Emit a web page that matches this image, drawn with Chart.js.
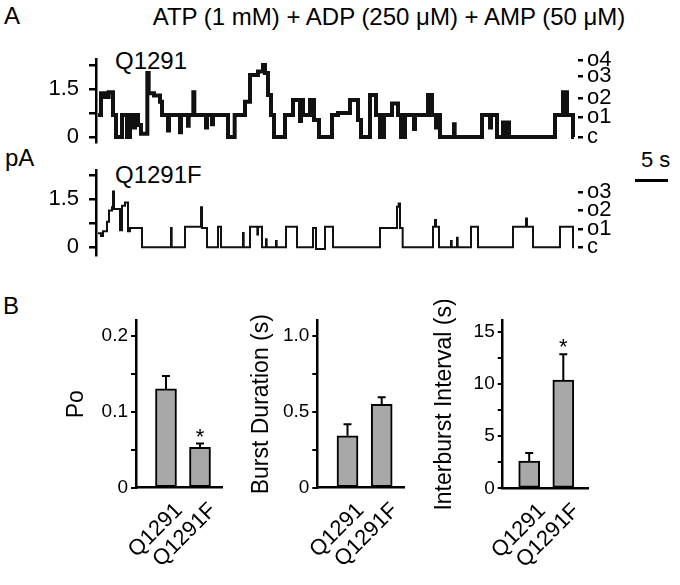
<!DOCTYPE html>
<html>
<head>
<meta charset="utf-8">
<script src="https://cdn.jsdelivr.net/npm/chart.js"></script>
<style>
  body { margin: 0; background: #fff; }
  #page { position: relative; width: 680px; height: 585px; overflow: hidden;
          font-family: 'Liberation Sans', Arial, sans-serif; color: #000; }
  #page canvas { position: absolute; }
  .txt { position: absolute; line-height: 1; white-space: nowrap; }
</style>
</head>
<body>
<div id="page">
  <div class="txt" style="left:4px;top:4px;font-size:24px">A</div>
  <div class="txt" style="left:389px;top:5px;font-size:24px;transform:translateX(-50%)">ATP (1 mM) + ADP (250 μM) + AMP (50 μM)</div>
  <div class="txt" style="left:115px;top:49px;font-size:24px">Q1291</div>
  <div class="txt" style="left:115px;top:163px;font-size:24px">Q1291F</div>
  <div class="txt" style="left:5px;top:146px;font-size:24px">pA</div>
  <div class="txt" style="left:641px;top:149px;font-size:22px">5 s</div>
  <div id="scalebar" style="position:absolute;left:635px;top:179px;height:3px;background:#000"></div>
  <div class="txt" style="left:3px;top:294px;font-size:24px">B</div>

  <canvas id="traceTop" style="left:36px;top:48px"></canvas>
  <canvas id="traceBot" style="left:36px;top:158px"></canvas>
  <canvas id="poChart" style="left:60px;top:300px"></canvas>
  <canvas id="burstChart" style="left:245px;top:300px"></canvas>
  <canvas id="ibiChart" style="left:428px;top:300px"></canvas>
</div>
<script>
// ---- panel A: single channel records (time in s, current in pA) ----
const topT = [0, 0.45, 1.05, 1.6, 2.25, 2.7, 3.6, 4.35, 4.8, 5.4, 5.55, 6.0, 6.45, 7.4, 7.6, 8.4, 9.3, 9.6,
  10.5, 10.65, 12.3, 12.45, 13.5, 13.6, 14.3, 14.45, 16.2, 16.35, 17.1, 17.25, 19.5, 20.5, 22.05, 22.8,
  24.0, 24.75, 25.05, 25.5, 25.95, 26.4, 28.05, 29.25, 30.3, 30.45, 30.75, 31.8, 32.4, 33.15, 35.1, 36.0,
  37.8, 39.0, 39.45, 40.8, 41.7, 42.3, 42.9, 44.1, 45.0, 45.45, 46.05, 47.4, 47.55, 49.5, 50.1, 50.7,
  50.85, 51.3, 53.4, 53.5, 57.6, 58.8, 58.95, 59.85, 60.75, 60.9, 61.5, 61.65, 68.55, 69.75, 70.35, 71.25, 71.4];
const topI = [0.69, 1.37, 1.25, 1.4, 0.69, 0, 0.69, 0, 0.69, 0.3, 0.69, 0.375, 0.1, 2.0, 1.37, 1.3, 1.1, 0.69,
  0.2, 0.69, 0.15, 0.69, 0.35, 0.69, 1.4, 0.69, 0.3, 0.69, 0.4, 0.69, 0, 0.69, 1.1, 1.94,
  2.05, 2.25, 2.0, 1.31, 0.69, 0, 0.69, 1.16, 0.5, 1.16, 0.69, 1.16, 0.53, 0, 0.69, 0.75,
  1.16, 0.53, 0, 1.31, 0.69, 0, 0.69, 1.05, 0.69, 0, 0.69, 0.25, 0.69, 1.31, 0.69, 0.3,
  0.69, 0, 0.4, 0, 0.69, 0.3, 0.69, 0, 0.45, 0, 0.45, 0, 0.69, 1.4, 0.69, 0, 0];

const botT = [0, 0.45, 0.75, 1.35, 1.65, 2.1, 2.25, 2.4, 3.3, 3.6, 4.05, 4.5, 4.8, 6.6, 10.95, 11.05,
  13.05, 15.45, 15.6, 16.35, 18.0, 18.45, 21.75, 21.85, 22.8, 23.9, 24.0, 24.6, 25.2, 25.3, 26.7, 26.8,
  28.2, 29.85, 32.25, 32.7, 34.05, 35.25, 42.3, 44.85, 45.1, 45.3, 45.7, 50.25, 50.55, 50.7, 51.15,
  52.95, 53.05, 53.85, 53.95, 55.95, 57.0, 62.25, 64.2, 64.35, 65.25, 69.3, 71.25, 71.4];
const botI = [0.44, 0.35, 0.5, 0.8, 1.15, 1.25, 1.74, 1.2, 0.53, 1.3, 1.4, 0.5, 0.6, 0, 0.6, 0,
  0.64, 1.25, 0.6, 0, 0.64, 0, 0.45, 0, 0.64, 0.4, 0.64, 0, 0.25, 0, 0.2, 0,
  0.64, 0, 0.6, -0.05, 0.64, 0, 0.6, 1.27, 1.37, 0.6, 0, 0.64, 0.85, 0.64, 0,
  0.2, 0, 0.3, 0, 0.64, 0, 0.64, 0.9, 0.64, 0, 0.64, 0, 0];

const currentTicks = [0, 0.75, 1.5, 2.25];
const currentTickLabels = ['0', '', '1.5', ''];
const topLevels = [0, 0.62, 1.21, 1.9, 2.4];
const topLevelNames = ['c', 'o1', 'o2', 'o3', 'o4'];
const botLevels = [0, 0.57, 1.17, 1.72];
const botLevelNames = ['c', 'o1', 'o2', 'o3'];

// ---- panel B: summary bars ----
const groups = ['Q1291', 'Q1291F'];
const poMean = [0.13, 0.053];
const poErr = [0.017, 0.005];
const poSig = [false, true];
const poTicks = [0, 0.05, 0.1, 0.15, 0.2];
const poTickLabels = ['0', '', '0.1', '', '0.2'];
const burstMean = [0.342, 0.549];
const burstErr = [0.075, 0.046];
const burstSig = [false, false];
const burstTicks = [0, 0.25, 0.5, 0.75, 1.0];
const burstTickLabels = ['0', '', '0.5', '', '1.0'];
const ibiMean = [2.61, 10.37];
const ibiErr = [0.77, 2.46];
const ibiSig = [false, true];
const ibiTicks = [0, 2.5, 5, 7.5, 10, 12.5, 15];
const ibiTickLabels = ['0', '', '5', '', '10', '', '15'];

Chart.defaults.font.family = "'Liberation Sans', Arial, sans-serif";
Chart.defaults.color = '#000';
Chart.defaults.animation = false;
Chart.defaults.plugins.legend.display = false;
Chart.defaults.plugins.tooltip.enabled = false;

function sizeCanvas(id, w, h) {
  const c = document.getElementById(id);
  c.width = w; c.height = h;
  c.style.width = w + 'px'; c.style.height = h + 'px';
  return c;
}

// fixed axis box: no automatic padding from the tick labels
function fixBox(w, h) {
  return s => {
    if (w !== undefined) s.width = w;
    if (h !== undefined) s.height = h;
    s.paddingTop = 0; s.paddingBottom = 0; s.paddingLeft = 0; s.paddingRight = 0;
  };
}

function traceChart(id, t, cur, levels, levelNames, yMin, yMax, h, padTop, padBottom, lineW) {
  const c = sizeCanvas(id, 582, h);
  return new Chart(c, {
    type: 'line',
    data: {
      datasets: [{
        data: t.map((v, i) => ({ x: v, y: cur[i] })),
        stepped: 'before',
        borderColor: '#111',
        borderWidth: lineW,
        pointRadius: 0,
        fill: false
      }]
    },
    options: {
      responsive: false,
      layout: { autoPadding: false, padding: { top: padTop, bottom: padBottom, left: 0, right: 0 } },
      scales: {
        x: { type: 'linear', display: false, min: -0.3, max: 72, afterFit: fixBox(undefined, 0) },
        y: {
          position: 'left', min: yMin, max: yMax,
          afterFit: fixBox(60),
          afterBuildTicks: s => { s.ticks = currentTicks.map(v => ({ value: v })); },
          border: { color: '#000', width: 2.5 },
          grid: { drawOnChartArea: false, color: '#000', lineWidth: 2.5, tickLength: 7 },
          ticks: { autoSkip: false, padding: 10, font: { size: 22 }, callback: (v, i) => currentTickLabels[i] }
        },
        lv: {
          position: 'right', min: yMin, max: yMax,
          afterFit: fixBox(40),
          afterBuildTicks: s => { s.ticks = levels.map(v => ({ value: v })); },
          border: { display: false },
          grid: { drawOnChartArea: false, color: '#000', lineWidth: 2.5, tickLength: 5 },
          ticks: { autoSkip: false, padding: 4, font: { size: 22 }, callback: (v, i) => levelNames[i] }
        }
      }
    }
  });
}

const topChart = traceChart('traceTop', topT, topI, topLevels, topLevelNames, -0.15, 2.42, 106, 11.56, 12.2, 4);
const botChart = traceChart('traceBot', botT, botI, botLevels, botLevelNames, -0.24, 2.42, 108, 11.86, 11.02, 2);

// 5 s scale bar, sized from the trace time axis
const xs = topChart.scales.x;
document.getElementById('scalebar').style.width = (xs.getPixelForValue(5) - xs.getPixelForValue(0)) + 'px';

const errorBars = {
  id: 'errorBars',
  afterDatasetsDraw(chart, args, opts) {
    const { ctx } = chart;
    const y = chart.scales.y;
    const meta = chart.getDatasetMeta(0);
    ctx.save();
    ctx.strokeStyle = '#000';
    ctx.fillStyle = '#000';
    ctx.lineWidth = 2;
    meta.data.forEach((bar, i) => {
      const top = y.getPixelForValue(opts.means[i] + opts.errs[i]);
      ctx.beginPath();
      ctx.moveTo(bar.x, bar.y);
      ctx.lineTo(bar.x, top);
      ctx.moveTo(bar.x - 4, top);
      ctx.lineTo(bar.x + 4, top);
      ctx.stroke();
      if (opts.sig[i]) {
        ctx.font = "22px 'Liberation Sans', Arial, sans-serif";
        ctx.textAlign = 'center';
        ctx.textBaseline = 'alphabetic';
        ctx.fillText('*', bar.x, top);
      }
    });
    ctx.restore();
  }
};

function barChart(o) {
  const c = sizeCanvas(o.id, o.width, 285);
  return new Chart(c, {
    type: 'bar',
    data: {
      datasets: [{
        data: groups.map((g, i) => ({ x: i + 1, y: o.means[i] })),
        backgroundColor: '#a8a8a8',
        borderColor: '#000',
        borderWidth: 2,
        borderSkipped: false,
        barThickness: 21
      }]
    },
    options: {
      responsive: false,
      layout: { autoPadding: false, padding: { top: o.padTop, right: o.padRight, left: 0, bottom: 0 } },
      plugins: { errorBars: { means: o.means, errs: o.errs, sig: o.sig } },
      scales: {
        x: {
          type: 'linear', min: o.xMin, max: o.xMax, offset: false,
          afterFit: fixBox(undefined, o.xH),
          afterBuildTicks: s => { s.ticks = groups.map((g, i) => ({ value: i + 1 })); },
          border: { color: '#000', width: 2.5 },
          grid: { display: false, offset: false },
          ticks: { minRotation: 45, maxRotation: 45, autoSkip: false, padding: 2, labelOffset: 13,
                   font: { size: 22 }, callback: (v, i) => groups[i] }
        },
        y: {
          min: 0, max: o.yMax,
          afterFit: fixBox(o.leftW),
          afterBuildTicks: s => { s.ticks = o.ticks.map(v => ({ value: v })); },
          border: { color: '#000', width: 2.5 },
          grid: { drawOnChartArea: false, color: '#000', lineWidth: 2, tickLength: 5 },
          ticks: { autoSkip: false, padding: 3, font: { size: 19 }, callback: (v, i) => o.tickLabels[i] },
          title: { display: true, text: o.title, font: { size: 23 }, padding: { top: 3, bottom: 4 } }
        }
      }
    },
    plugins: [errorBars]
  });
}

barChart({ id: 'poChart', width: 174, leftW: 76, padTop: 20.7, padRight: 12, xH: 97.3,
  means: poMean, errs: poErr, sig: poSig, ticks: poTicks, tickLabels: poTickLabels,
  yMax: 0.2197, xMin: 0.118, xMax: 2.647, title: 'Po' });
barChart({ id: 'burstChart', width: 171, leftW: 72.3, padTop: 20.7, padRight: 12, xH: 97.3,
  means: burstMean, errs: burstErr, sig: burstSig, ticks: burstTicks, tickLabels: burstTickLabels,
  yMax: 1.0987, xMin: 0.117, xMax: 2.652, title: 'Burst Duration (s)' });
barChart({ id: 'ibiChart', width: 172, leftW: 74.7, padTop: 20.7, padRight: 11.7, xH: 96.7,
  means: ibiMean, errs: ibiErr, sig: ibiSig, ticks: ibiTicks, tickLabels: ibiTickLabels,
  yMax: 16.05, xMin: 0.223, xMax: 2.733, title: 'Interburst Interval (s)' });
</script>
</body>
</html>
